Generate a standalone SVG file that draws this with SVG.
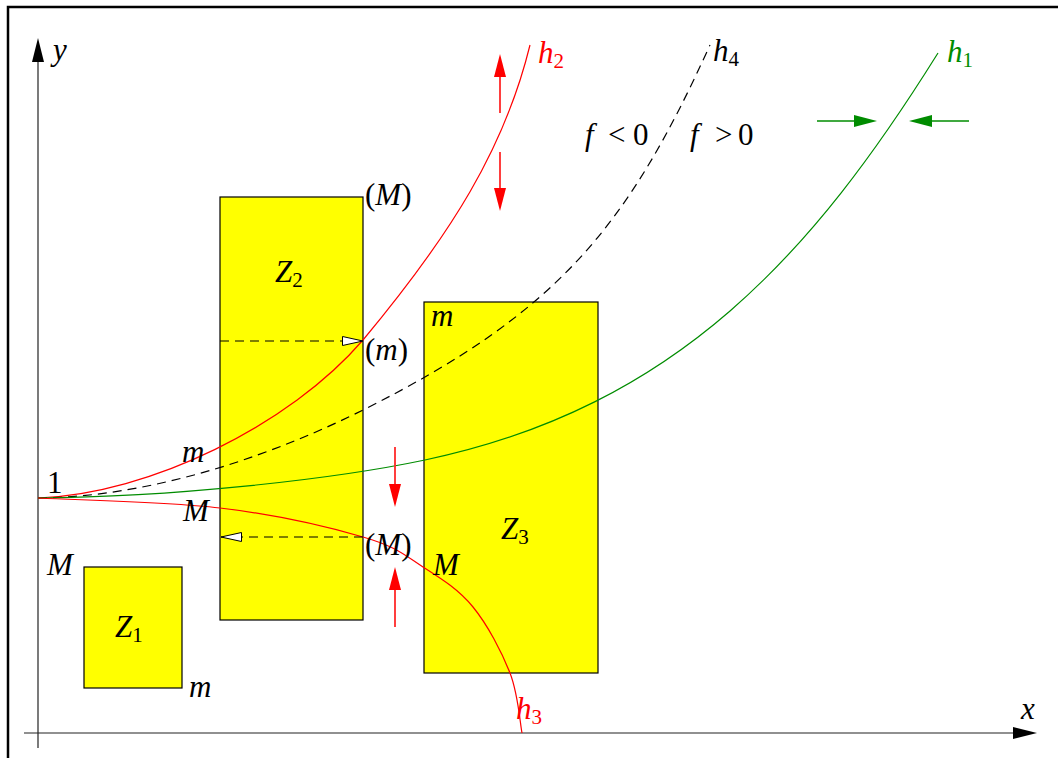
<svg xmlns="http://www.w3.org/2000/svg" width="1058" height="758" viewBox="0 0 1058 758">
<style>
text{font-family:"Liberation Serif","DejaVu Serif",serif;font-size:31px;fill:#000}
.mi{font-style:italic}
.up{font-style:normal}
.sub{font-style:normal;font-size:21px}
.red{fill:#ff0000}
.grn{fill:#008c00}
.zone{fill:#ffff00;stroke:#000;stroke-width:1.2}
.axis{stroke:#222;stroke-width:1.2;fill:none}
.curve{fill:none;stroke-width:1.2}
.dash{fill:none;stroke:#000;stroke-width:1.2;stroke-dasharray:9 6}
.rarr{stroke:#ff2a2a;stroke-width:1.8;fill:none}
.garr{stroke:#008c00;stroke-width:1.5;fill:none}
</style>
<defs>
<marker id="ax" markerUnits="userSpaceOnUse" markerWidth="24" markerHeight="12" refX="0" refY="6" orient="auto"><path d="M0,0 L24,6 L0,12 z" fill="#000"/></marker>
<marker id="ra" markerUnits="userSpaceOnUse" markerWidth="23" markerHeight="12" refX="0" refY="6" orient="auto"><path d="M0,0 L23,6 L0,12 z" fill="#ff0000"/></marker>
<marker id="ga" markerUnits="userSpaceOnUse" markerWidth="23" markerHeight="12" refX="0" refY="6" orient="auto"><path d="M0,0 L23,6 L0,12 z" fill="#008c00"/></marker>
<marker id="oa" markerUnits="userSpaceOnUse" markerWidth="24" markerHeight="12" refX="21" refY="6" orient="auto"><path d="M0.5,1.5 L21,6 L0.5,10.5 z" fill="#fff" stroke="#000" stroke-width="1"/></marker>
</defs>
<rect x="0" y="0" width="1058" height="758" fill="#fff"/>
<rect x="8" y="7" width="1120" height="820" fill="none" stroke="#000" stroke-width="2.5"/>

<g id="zone-Z1"><rect class="zone" x="84" y="567" width="98" height="121"/><text class="mi" x="115" y="637">Z<tspan class="sub" dy="5">1</tspan></text></g>
<g id="zone-Z2"><rect class="zone" x="220" y="197" width="143" height="423"/><text class="mi" x="275" y="282">Z<tspan class="sub" dy="5">2</tspan></text></g>
<g id="zone-Z3"><rect class="zone" x="424" y="302" width="174" height="371"/><text class="mi" x="501" y="539">Z<tspan class="sub" dy="5">3</tspan></text></g>

<g id="axes">
<line class="axis" x1="38" y1="748" x2="38" y2="62" marker-end="url(#ax)"/>
<line class="axis" x1="24" y1="733" x2="1013" y2="733" marker-end="url(#ax)"/>
<text class="mi" x="53" y="60">y</text>
<text class="mi" x="1021" y="719">x</text>
</g>

<g id="connectors">
<path id="h2" class="curve" stroke="#ff0000" d="M38,498 C150,494 290,425 363,340 C451.1,234.3 504.6,148.6 530,45"/>
<path id="h4" class="dash" d="M38,498 C160,497 283,450 363,410 C560.1,311.5 628.2,225 710,45"/>
<path id="h1" class="curve" stroke="#008c00" d="M38,498 C170,497 330,480 425,460 C678.4,406.8 814,251.4 938,53"/>
<path id="h3" class="curve" stroke="#ff0000" d="M38,498 C68.3,499.7 165.8,501.5 220,508 C274.2,514.5 329.2,527.2 363,537 C396.8,546.8 404.7,555.3 423,567 C441.3,578.7 458.5,589.3 473,607 C487.5,624.7 501.8,652 510,673 C518.2,694 520,723 522,733"/>
<line class="dash" x1="220" y1="341" x2="363" y2="341" marker-end="url(#oa)"/>
<line class="dash" x1="363" y1="537" x2="221" y2="537" marker-end="url(#oa)"/>
<line class="rarr" x1="500" y1="113" x2="500" y2="77" marker-end="url(#ra)"/>
<line class="rarr" x1="500" y1="152" x2="500" y2="188" marker-end="url(#ra)"/>
<line class="rarr" x1="395" y1="447" x2="395" y2="484" marker-end="url(#ra)"/>
<line class="rarr" x1="395" y1="627" x2="395" y2="590" marker-end="url(#ra)"/>
<line class="garr" x1="817" y1="121" x2="854" y2="121" marker-end="url(#ga)"/>
<line class="garr" x1="969" y1="121" x2="932" y2="121" marker-end="url(#ga)"/>
</g>

<g id="labels">
<text class="mi red" x="538" y="63">h<tspan class="sub" dy="5">2</tspan></text>
<text class="mi" x="713" y="61">h<tspan class="sub" dy="5">4</tspan></text>
<text class="mi grn" x="947" y="62">h<tspan class="sub" dy="5">1</tspan></text>
<text class="mi red" x="516" y="719">h<tspan class="sub" dy="5">3</tspan></text>
<text x="585" y="145"><tspan class="mi">f</tspan><tspan class="up" x="608">&lt;</tspan><tspan class="up" x="633">0</tspan></text>
<text x="690" y="145"><tspan class="mi">f</tspan><tspan class="up" x="715">&gt;</tspan><tspan class="up" x="738">0</tspan></text>
<text x="365" y="205"><tspan class="up">(</tspan><tspan class="mi">M</tspan><tspan class="up">)</tspan></text>
<text x="365" y="360"><tspan class="up">(</tspan><tspan class="mi">m</tspan><tspan class="up">)</tspan></text>
<text x="365" y="555"><tspan class="up">(</tspan><tspan class="mi">M</tspan><tspan class="up">)</tspan></text>
<text class="mi" x="182" y="462">m</text>
<text class="up" x="47" y="493">1</text>
<text class="mi" x="183" y="521">M</text>
<text class="mi" x="47" y="575">M</text>
<text class="mi" x="189" y="697">m</text>
<text class="mi" x="431" y="326">m</text>
<text class="mi" x="433" y="575">M</text>
</g>
</svg>
